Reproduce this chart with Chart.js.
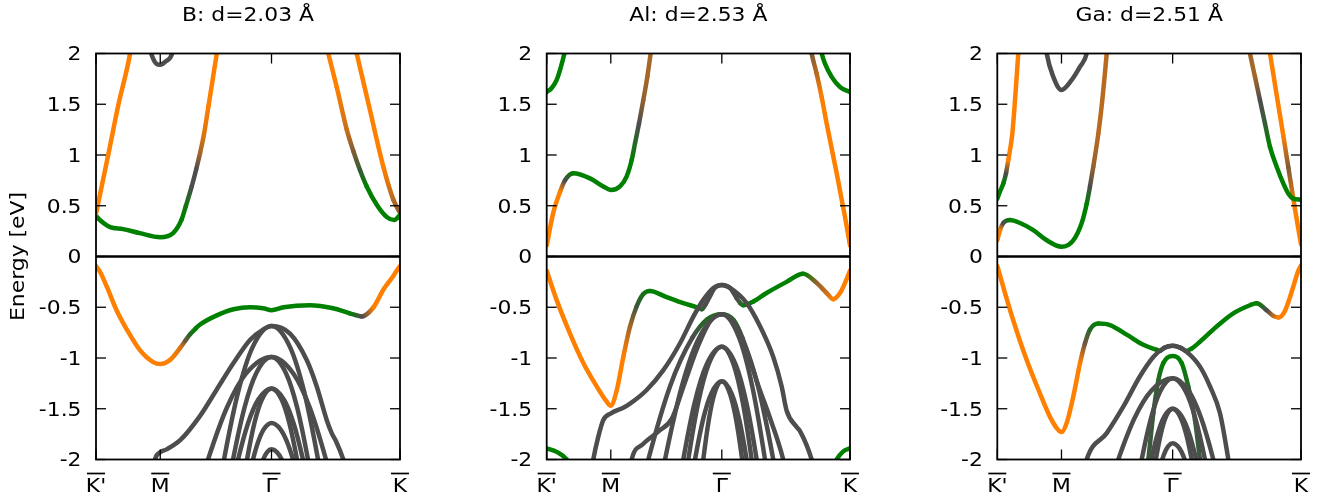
<!DOCTYPE html>
<html>
<head>
<meta charset="utf-8">
<script src="https://cdn.jsdelivr.net/npm/chart.js@4.4.1/dist/chart.umd.min.js"></script>
<style>
  body { margin: 0; background: #fff; width: 1328px; height: 500px; overflow: hidden; position: relative; }
  .panel { position: absolute; top: 0; height: 500px; }
</style>
</head>
<body>
<div class="panel" style="left:0;width:450px"><canvas id="c0" width="450" height="500"></canvas></div>
<div class="panel" style="left:450px;width:450px"><canvas id="c1" width="450" height="500"></canvas></div>
<div class="panel" style="left:900px;width:428px"><canvas id="c2" width="428" height="500"></canvas></div>
<script>
// k-path: K' -> M -> Gamma -> K (path length units), energy ticks, titles
const kLabels = ["K'", "M", "Γ", "K"];
const kPos = [0, 1, 2.732, 4.732];
const eTicks = [-2, -1.5, -1, -0.5, 0, 0.5, 1, 1.5, 2];
const titles = ['B: d=2.03 Å', 'Al: d=2.53 Å', 'Ga: d=2.51 Å'];

// each band: [k, E (eV), character] ; character -1 = orange, 0 = grey, 1 = green
// ---- B ----
const bUp1 = [[0,0.42,-1],[0.19,1.0,-1],[0.35,1.5,-1],[0.53,2.0,-1],[0.61,2.35,-1]];
const bUp2 = [[0,0.40,1],[0.06,0.36,1],[0.22,0.29,1],[0.42,0.27,1],[0.68,0.23,1],[1.0,0.19,1],[1.2,0.23,1],[1.33,0.36,1],[1.40,0.50,0.8],[1.49,0.69,0],[1.56,0.86,0],[1.62,1.02,-0.5],[1.68,1.2,-0.8],[1.75,1.48,-1],[1.88,2.0,-1],[1.95,2.3,-1]];
const bUp3 = [[0.82,2.1,0],[0.87,1.98,0],[0.94,1.9,0],[1.0,1.89,0],[1.08,1.92,0],[1.18,1.99,0],[1.22,2.1,0]];
const bUp4 = [[3.56,2.15,-1],[3.616,2.0,-1],[3.747,1.67,-1],[3.903,1.25,-0.7],[4.005,1.04,-0.3],[4.11,0.85,0.3],[4.214,0.69,1],[4.37,0.51,1],[4.525,0.39,1],[4.643,0.36,1],[4.732,0.41,1]];
const bUp5 = [[4.0,2.15,-1],[4.058,2.0,-1],[4.265,1.44,-1],[4.472,0.885,-1],[4.628,0.56,-0.6],[4.732,0.43,-0.3]];
const bLow1 = [[0,-0.094,-1],[0.062,-0.15,-1],[0.17,-0.30,-1],[0.32,-0.53,-1],[0.48,-0.72,-1],[0.68,-0.92,-1],[0.89,-1.04,-1],[1.0,-1.06,-1],[1.15,-1.02,-1],[1.31,-0.90,-0.8],[1.39,-0.83,-0.2],[1.46,-0.77,0.5],[1.55,-0.71,1],[1.62,-0.67,1],[1.88,-0.58,1],[2.14,-0.52,1],[2.40,-0.50,1],[2.60,-0.51,1],[2.732,-0.53,1],[2.92,-0.50,1],[3.33,-0.48,1],[3.69,-0.51,1],[3.95,-0.56,1],[4.136,-0.59,0],[4.32,-0.50,-1],[4.47,-0.33,-1],[4.63,-0.19,-1],[4.67,-0.15,-1],[4.732,-0.094,-1]];
const bLow2 = [[0.88,-2.15,0],[0.918,-2.0,0],[0.996,-1.93,0],[1.10,-1.90,0],[1.31,-1.81,0],[1.62,-1.57,0],[1.88,-1.31,0],[2.14,-1.05,0],[2.40,-0.82,0],[2.60,-0.72,0],[2.732,-0.685,0],[3.02,-0.76,0],[3.28,-1.02,0],[3.436,-1.28,0],[3.591,-1.61,0],[3.669,-1.74,0],[3.736,-1.82,0],[3.85,-2.0,0],[3.92,-2.15,0]];
const bLow3 = [[1.919,-2.276,0],[1.993,-2.0,0],[2.215,-1.329,0],[2.436,-0.895,0],[2.732,-0.685,0],[3.022,-0.895,0],[3.239,-1.329,0],[3.456,-2.0,0],[3.528,-2.276,0]];
const bLow4 = [[1.645,-2.212,0],[1.744,-2.0,0],[2.04,-1.485,0],[2.337,-1.152,0],[2.732,-0.99,0],[3.071,-1.152,0],[3.326,-1.485,0],[3.58,-2.0,0],[3.665,-2.212,0]];
const bLow5 = [[2.073,-2.212,0],[2.133,-2.0,0],[2.313,-1.485,0],[2.492,-1.152,0],[2.732,-0.99,0],[2.959,-1.152,0],[3.13,-1.485,0],[3.30,-2.0,0],[3.357,-2.212,0]];
const bLow6 = [[2.159,-2.147,0],[2.211,-2.0,0],[2.367,-1.643,0],[2.524,-1.412,0],[2.732,-1.30,0],[2.928,-1.412,0],[3.075,-1.643,0],[3.222,-2.0,0],[3.271,-2.147,0]];
const bLow7 = [[2.313,-2.147,0],[2.351,-2.0,0],[2.465,-1.643,0],[2.58,-1.412,0],[2.732,-1.30,0],[2.891,-1.412,0],[3.01,-1.643,0],[3.129,-2.0,0],[3.169,-2.147,0]];
const bLow8 = [[2.358,-2.248,0],[2.444,-2.0,0],[2.53,-1.816,0],[2.617,-1.698,0],[2.732,-1.64,0],[2.866,-1.698,0],[2.967,-1.816,0],[3.067,-2.0,0],[3.168,-2.248,0]];
const bLow9 = [[2.537,-2.125,0],[2.602,-2.0,0],[2.667,-1.925,0],[2.732,-1.90,0],[2.812,-1.925,0],[2.892,-2.0,0],[2.972,-2.125,0]];

// ---- Al ----
const alUp1 = [[0,1.62,1],[0.078,1.66,1],[0.156,1.74,1],[0.223,1.87,1],[0.275,2.0,1],[0.31,2.12,1]];
const alUp2 = [[4.25,2.12,1],[4.29,2.0,1],[4.342,1.90,1],[4.446,1.77,1],[4.576,1.67,1],[4.732,1.62,1]];
const alUp3 = [[0,0.11,-1],[0.10,0.425,-1],[0.21,0.64,-1],[0.285,0.75,0],[0.415,0.82,1],[0.675,0.77,1],[0.883,0.69,1],[1.003,0.655,1],[1.144,0.69,1],[1.248,0.79,1],[1.326,0.95,1],[1.378,1.115,0.5],[1.44,1.31,0],[1.507,1.54,-0.4],[1.57,1.77,-0.5],[1.622,2.0,-0.5],[1.66,2.15,-0.5]];
const alUp4 = [[4.10,2.13,-0.3],[4.134,2.0,-0.3],[4.212,1.80,-0.6],[4.29,1.57,-1],[4.368,1.31,-1],[4.524,0.82,-1],[4.654,0.39,-1],[4.732,0.11,-1]];
const alLow1 = [[0,-0.14,-1],[0.156,-0.43,-1],[0.364,-0.76,-1],[0.571,-1.05,-1],[0.78,-1.28,-1],[0.936,-1.43,-1],[0.998,-1.47,-1],[1.092,-1.32,-1],[1.195,-0.99,-1],[1.30,-0.69,-0.5],[1.404,-0.49,0.2],[1.507,-0.37,0.7],[1.61,-0.34,1],[1.87,-0.40,1],[2.13,-0.46,1],[2.34,-0.50,1],[2.418,-0.52,0.4],[2.48,-0.47,0],[2.54,-0.40,0],[2.62,-0.31,0],[2.732,-0.28,0],[2.86,-0.31,0],[2.964,-0.41,0],[3.02,-0.46,0.3],[3.067,-0.48,0.8],[3.22,-0.445,1],[3.43,-0.36,1],[3.744,-0.25,1],[4.0,-0.17,1],[4.212,-0.26,-0.4],[4.368,-0.36,-0.7],[4.47,-0.42,-1],[4.576,-0.36,-1],[4.654,-0.26,-1],[4.732,-0.14,-1]];
const alLow2 = [[0.69,-2.15,0],[0.727,-2.0,0],[0.805,-1.775,0],[0.883,-1.61,0],[1.003,-1.545,0],[1.195,-1.49,0],[1.30,-1.45,0],[1.56,-1.315,0],[1.82,-1.12,0],[2.08,-0.855,0],[2.29,-0.59,0],[2.44,-0.43,0],[2.60,-0.31,0],[2.732,-0.28,0],[2.86,-0.31,0],[3.12,-0.46,0],[3.33,-0.69,0],[3.535,-0.99,0],[3.666,-1.28,0],[3.744,-1.52,0],[3.90,-1.68,0],[3.952,-1.72,0],[4.134,-2.0,0],[4.18,-2.12,0]];
const alLow3 = [[0,-1.89,1],[0.156,-1.925,1],[0.312,-2.0,1],[0.40,-2.1,1]];
const alLow4 = [[4.45,-2.1,1],[4.524,-2.0,1],[4.627,-1.92,1],[4.732,-1.89,1]];
const alLow5 = [[1.28,-2.2,0],[1.326,-2.0,0],[1.5,-1.85,0],[1.75,-1.72,0],[1.95,-1.60,0],[2.15,-1.25,0],[2.35,-0.90,0],[2.55,-0.64,0],[2.732,-0.57,0],[2.92,-0.65,0],[3.12,-0.93,0],[3.3,-1.27,0],[3.5,-1.62,0],[3.69,-2.0,0],[3.74,-2.15,0]];
const alLow6 = [[1.47,-2.30,0],[1.585,-2.0,0],[1.929,-1.27,0],[2.273,-0.80,0],[2.50,-0.62,0.6],[2.732,-0.57,1],[2.92,-0.63,0.6],[3.053,-0.80,0],[3.294,-1.27,0],[3.535,-2.0,0],[3.615,-2.30,0]];
const alLow7 = [[1.757,-2.30,0],[1.846,-2.0,0],[2.112,-1.27,0],[2.378,-0.80,0],[2.732,-0.57,0],[3.002,-0.80,0],[3.204,-1.27,0],[3.406,-2.0,0],[3.473,-2.30,0]];
const alLow8 = [[2.071,-2.233,0],[2.131,-2.0,0],[2.311,-1.434,0],[2.492,-1.068,0],[2.732,-0.89,0],[2.95,-1.068,0],[3.113,-1.434,0],[3.276,-2.0,0],[3.33,-2.233,0]];
const alLow9 = [[2.157,-2.233,0],[2.209,-2.0,0],[2.366,-1.434,0],[2.523,-1.068,0],[2.732,-0.89,0],[2.918,-1.068,0],[3.058,-1.434,0],[3.198,-2.0,0],[3.245,-2.233,0]];
const alLow10 = [[2.272,-2.162,0],[2.314,-2.0,0],[2.439,-1.607,0],[2.565,-1.353,0],[2.732,-1.23,0],[2.887,-1.353,0],[3.004,-1.607,0],[3.12,-2.0,0],[3.159,-2.162,0]];
const alLow11 = [[2.414,-2.162,0],[2.443,-2.0,0],[2.53,-1.607,0],[2.616,-1.353,0],[2.732,-1.23,0],[2.859,-1.353,0],[2.955,-1.607,0],[3.05,-2.0,0],[3.082,-2.162,0]];

// ---- Ga ----
const gaUp1 = [[0,0.57,1],[0.042,0.64,1],[0.094,0.72,1],[0.136,0.82,0],[0.171,0.95,-1],[0.234,1.21,-1],[0.276,1.54,-1],[0.327,2.0,-1],[0.36,2.3,-1]];
const gaUp2 = [[0,0.16,-1],[0.042,0.26,-1],[0.093,0.33,0],[0.198,0.36,1],[0.354,0.33,1],[0.561,0.26,1],[0.77,0.16,1],[1.0,0.097,1],[1.184,0.16,1],[1.315,0.33,1],[1.393,0.52,1],[1.444,0.69,0],[1.496,0.885,-0.4],[1.574,1.21,-0.6],[1.636,1.54,-0.6],[1.705,2.0,-0.6],[1.74,2.25,-0.6]];
const gaUp3 = [[0.74,2.15,0],[0.77,2.0,0],[0.873,1.77,0],[1.0,1.64,0],[1.16,1.74,0],[1.289,1.87,0],[1.393,2.0,0],[1.43,2.15,0]];
const gaUp4 = [[3.90,2.12,-0.5],[3.937,2.0,-0.5],[4.015,1.77,-0.5],[4.093,1.54,0],[4.171,1.31,0.3],[4.249,1.08,1],[4.353,0.885,1],[4.456,0.72,1],[4.534,0.62,1],[4.612,0.57,1],[4.732,0.56,1]];
const gaUp5 = [[4.21,2.15,-1],[4.249,2.0,-1],[4.353,1.59,-1],[4.456,1.19,-1],[4.534,0.88,-0.3],[4.638,0.47,-1],[4.732,0.12,-1]];
const gaLow1 = [[0,-0.094,-1],[0.093,-0.30,-1],[0.249,-0.63,-1],[0.458,-1.02,-1],[0.665,-1.35,-1],[0.821,-1.58,-1],[0.925,-1.69,-1],[1.0,-1.73,-1],[1.081,-1.64,-1],[1.184,-1.38,-1],[1.289,-1.05,-1],[1.366,-0.855,-0.2],[1.444,-0.72,0.5],[1.574,-0.66,1],[1.756,-0.675,1],[2.016,-0.77,1],[2.275,-0.87,1],[2.484,-0.92,1],[2.53,-0.93,0.5],[2.60,-0.90,0],[2.732,-0.88,0],[2.86,-0.90,0],[2.95,-0.93,0.5],[3.02,-0.91,1],[3.158,-0.84,1],[3.418,-0.69,1],[3.677,-0.56,1],[3.937,-0.48,1],[4.04,-0.46,1],[4.197,-0.53,0],[4.30,-0.585,-0.6],[4.38,-0.60,-1],[4.47,-0.55,-1],[4.55,-0.42,-1],[4.62,-0.28,-1],[4.69,-0.14,-1],[4.732,-0.09,-1]];
const gaLow2 = [[1.36,-2.1,0],[1.393,-2.0,0],[1.705,-1.74,0],[1.963,-1.48,0],[2.223,-1.18,0],[2.431,-0.99,0],[2.587,-0.905,0],[2.732,-0.88,0],[2.951,-0.94,0],[3.158,-1.085,0],[3.314,-1.28,0],[3.47,-1.545,0],[3.60,-2.0,0],[3.63,-2.12,0]];
const gaLow3 = [[2.32,-2.15,0.2],[2.353,-2.0,0.2],[2.431,-1.545,0.3],[2.509,-1.22,0.5],[2.587,-1.05,1],[2.732,-0.98,1],[2.873,-1.05,1],[2.976,-1.28,0.5],[3.08,-1.61,0.3],[3.158,-2.0,0.2],[3.19,-2.15,0.2]];
const gaLow4 = [[1.80,-2.168,0],[1.885,-2.0,0],[2.139,-1.592,0],[2.393,-1.328,0],[2.732,-1.20,0],[2.986,-1.328,0],[3.176,-1.592,0],[3.366,-2.0,0],[3.429,-2.168,0]];
const gaLow5 = [[2.202,-2.168,0],[2.25,-2.0,0],[2.395,-1.592,0],[2.539,-1.328,0],[2.732,-1.20,0],[2.934,-1.328,0],[3.085,-1.592,0],[3.236,-2.0,0],[3.286,-2.168,0]];
const gaLow6 = [[2.367,-2.105,0],[2.40,-2.0,0],[2.50,-1.745,0],[2.599,-1.58,0],[2.732,-1.50,0],[2.879,-1.58,0],[2.99,-1.745,0],[3.10,-2.0,0],[3.137,-2.105,0]];
const gaLow7 = [[2.444,-2.105,0],[2.47,-2.0,0],[2.549,-1.745,0],[2.627,-1.58,0],[2.732,-1.50,0],[2.851,-1.58,0],[2.941,-1.745,0],[3.03,-2.0,0],[3.06,-2.105,0]];
const gaLow8 = [[2.521,-2.11,0],[2.57,-2.0,0],[2.619,-1.918,0],[2.667,-1.866,0],[2.732,-1.84,0],[2.807,-1.866,0],[2.864,-1.918,0],[2.92,-2.0,0],[2.976,-2.11,0]];

const bBands = [bLow2, bLow3, bLow4, bLow5, bLow6, bLow7, bLow8, bLow9, bLow1, bUp3, bUp1, bUp2, bUp4, bUp5];
const alBands = [alLow2, alLow5, alLow7, alLow8, alLow9, alLow10, alLow11, alLow6, alLow1, alLow3, alLow4, alUp1, alUp2, alUp3, alUp4];
const gaBands = [gaLow4, gaLow5, gaLow6, gaLow7, gaLow8, gaLow2, gaLow3, gaLow1, gaUp3, gaUp1, gaUp2, gaUp4, gaUp5];

const ORANGE = [255, 127, 0], GREY = [77, 77, 77], GREEN = [0, 128, 0];
function mix(t) {
  const to = t < 0 ? ORANGE : GREEN, f = Math.abs(t);
  return 'rgb(' + GREY.map((v, i) => Math.round(v + (to[i] - v) * f)).join(',') + ')';
}

Chart.defaults.font.family = 'DejaVu Sans';
Chart.defaults.font.size = 19;
Chart.defaults.color = '#000';

// the original's lettering is wider than DejaVu; stretch glyphs along the text direction
const TEXT_SX = 1.15;
function stretchText(ctx) {
  const fill = ctx.fillText.bind(ctx);
  ctx.fillText = (text, x, y, maxWidth) => {
    ctx.save();
    ctx.translate(x, y);
    ctx.scale(TEXT_SX, 1);
    if (maxWidth === undefined) fill(text, 0, 0);
    else fill(text, 0, 0, maxWidth / TEXT_SX);
    ctx.restore();
  };
}

function makeDatasets(bands, ctx) {
  return bands.map(band => ({
    data: band.map(p => ({ x: p[0], y: p[1] })),
    borderColor: mix(band[0][2]),
    borderWidth: 4.5,
    pointRadius: 0,
    cubicInterpolationMode: 'monotone',
    capBezierPoints: false,
    clip: 0,
    borderCapStyle: 'round',
    borderJoinStyle: 'round',
    segment: {
      borderColor: s => {
        const t0 = band[s.p0DataIndex][2], t1 = band[s.p1DataIndex][2];
        if (t0 === t1) return mix(t0);
        const g = ctx.createLinearGradient(s.p0.x, s.p0.y, s.p1.x, s.p1.y);
        g.addColorStop(0, mix(t0));
        g.addColorStop(1, mix(t1));
        return g;
      }
    }
  }));
}

// frame, inward ticks, zero line and the bars over the k-point labels
const framePlugin = {
  id: 'frame',
  afterDraw(chart) {
    const { ctx, chartArea: a, scales: { x, y } } = chart;
    const line = (x0, y0, x1, y1) => { ctx.beginPath(); ctx.moveTo(x0, y0); ctx.lineTo(x1, y1); ctx.stroke(); };
    ctx.save();
    ctx.strokeStyle = '#000';
    ctx.lineWidth = 2.5;
    const y0 = y.getPixelForValue(0);
    line(a.left, y0, a.right, y0);
    ctx.lineWidth = 1.3;
    eTicks.forEach(v => {
      const py = y.getPixelForValue(v);
      line(a.left, py, a.left + 10, py);
      line(a.right - 10, py, a.right, py);
    });
    kPos.forEach(v => {
      const px = x.getPixelForValue(v);
      line(px, a.top, px, a.top + 10);
      line(px, a.bottom - 10, px, a.bottom);
    });
    ctx.lineWidth = 1.8;
    ctx.strokeRect(a.left, a.top, a.right - a.left, a.bottom - a.top);
    ctx.lineWidth = 1.7;
    kPos.forEach(v => {
      const px = x.getPixelForValue(v);
      line(px - 9, a.bottom + 14, px + 9, a.bottom + 14);
    });
    ctx.restore();
  }
};

function drawPanel(id, title, bands, axisW, padR, yTitle) {
  const ctx = document.getElementById(id).getContext('2d');
  stretchText(ctx);
  new Chart(ctx, {
    type: 'line',
    data: { datasets: makeDatasets(bands, ctx) },
    options: {
      responsive: false,
      animation: false,
      devicePixelRatio: 1,
      layout: { padding: { left: 0, right: padR, top: 0, bottom: 0 } },
      plugins: {
        legend: { display: false },
        tooltip: { enabled: false },
        title: {
          display: true, text: title, fullSize: false, color: '#000',
          font: { size: 19, weight: 'normal' },
          padding: { top: 4.5, bottom: 26.2 }
        }
      },
      scales: {
        x: {
          type: 'linear', min: kPos[0], max: kPos[3],
          grid: { display: false, drawTicks: false }, border: { display: false },
          afterBuildTicks: s => { s.ticks = kPos.map(v => ({ value: v })); },
          afterFit: s => { s.height = 40.5; },
          ticks: { autoSkip: false, maxRotation: 0, padding: 16, callback: (v, i) => kLabels[i] }
        },
        y: {
          min: -2, max: 2,
          grid: { display: false, drawTicks: false }, border: { display: false },
          afterBuildTicks: s => { s.ticks = eTicks.map(v => ({ value: v })); },
          afterFit: s => { s.width = axisW; },
          ticks: { padding: 14.5, labelOffset: 2, callback: v => String(v) },
          title: { display: yTitle, text: 'Energy [eV]', font: { size: 19 }, padding: { top: 8 } }
        }
      }
    },
    plugins: [framePlugin]
  });
}

drawPanel('c0', titles[0], bBands, 96, 50, true);
drawPanel('c1', titles[1], alBands, 96.7, 50, false);
drawPanel('c2', titles[2], gaBands, 97.3, 27, false);
</script>
</body>
</html>
